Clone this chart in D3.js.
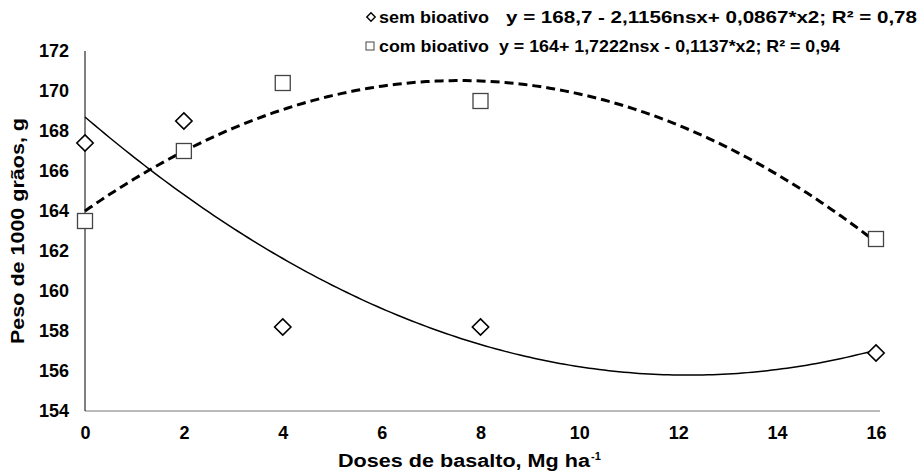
<!DOCTYPE html>
<html><head><meta charset="utf-8">
<script src="https://cdn.jsdelivr.net/npm/d3@7"></script>
<style>
body{margin:0;background:#fff;}
text{font-family:"Liberation Sans",Arial,sans-serif;font-weight:bold;fill:#000;}
</style></head>
<body><svg id="c" width="920" height="472"></svg>
<script>
const doses = [0, 2, 4, 8, 16];
const semBioativo = [167.4, 168.5, 158.2, 158.2, 156.9];
const comBioativo = [163.5, 167.0, 170.4, 169.5, 162.6];
// fitted regression coefficients from the legend: a + b*x + c*x^2
const semCoef = [168.7, -2.1156, 0.0867];
const comCoef = [164, 1.7222, -0.1137];
const xTicks = [0, 2, 4, 6, 8, 10, 12, 14, 16];
const yTicks = [154, 156, 158, 160, 162, 164, 166, 168, 170, 172];
const legendSem = "sem bioativo";
const legendSemEq = "y = 168,7 - 2,1156nsx+ 0,0867*x2; R² = 0,78";
const legendCom = "com bioativo";
const legendComEq = "y = 164+ 1,7222nsx - 0,1137*x2; R² = 0,94";

const svg = d3.select("#c");
const x = d3.scaleLinear().domain([0, 16]).range([85, 876]);
const y = d3.scaleLinear().domain([154, 172]).range([411, 51]);

// axes lines
svg.append("line").attr("x1", 85).attr("x2", 880).attr("y1", y(154)).attr("y2", y(154)).attr("stroke", "#777").attr("stroke-width", 1.2);
svg.append("line").attr("x1", 85).attr("x2", 85).attr("y1", y(154)).attr("y2", y(172)).attr("stroke", "#000").attr("stroke-width", 1);

const xa = svg.append("g").attr("transform", `translate(0,${y(154)})`)
  .call(d3.axisBottom(x).tickValues(xTicks).tickSize(0).tickPadding(15).tickFormat(d3.format("d")));
xa.select(".domain").remove();
xa.selectAll("text").style("font-size", "18px").style("font-family", "Liberation Sans, Arial").style("font-weight", "bold");

const ya = svg.append("g").attr("transform", `translate(85,0)`)
  .call(d3.axisLeft(y).tickValues(yTicks).tickSize(0).tickPadding(16).tickFormat(d3.format("d")));
ya.select(".domain").remove();
ya.selectAll("text").style("font-size", "18px").style("font-family", "Liberation Sans, Arial").style("font-weight", "bold");

// axis titles
svg.append("text").attr("x", 338).attr("y", 467).style("font-size", "18px")
  .attr("textLength", 252).attr("lengthAdjust", "spacingAndGlyphs")
  .text("Doses de basalto, Mg ha");
svg.append("text").attr("x", 591).attr("y", 460).style("font-size", "11px").text("-1");
svg.append("text").attr("transform", "translate(24,231) rotate(-90)").attr("text-anchor", "middle").style("font-size", "18px")
  .attr("textLength", 226).attr("lengthAdjust", "spacingAndGlyphs")
  .text("Peso de 1000 grãos, g");

// trend curves
const poly = (c, v) => c[0] + c[1] * v + c[2] * v * v;
const xs = d3.range(0, 16.001, 0.1);
const line = d3.line().x(d => x(d[0])).y(d => y(d[1]));
svg.append("path").datum(xs.map(v => [v, poly(semCoef, v)])).attr("d", line)
  .attr("fill", "none").attr("stroke", "#000").attr("stroke-width", 1.5);
svg.append("path").datum(xs.map(v => [v, poly(comCoef, v)])).attr("d", line)
  .attr("fill", "none").attr("stroke", "#000").attr("stroke-width", 3).attr("stroke-dasharray", "9,5");

// markers
const dia = d3.symbol().type(d3.symbolDiamond2).size(170);
svg.selectAll(".sem").data(doses).enter().append("path")
  .attr("transform", (d, i) => `translate(${x(d)},${y(semBioativo[i])})`)
  .attr("d", dia).attr("fill", "#fff").attr("stroke", "#000").attr("stroke-width", 1.6);
svg.selectAll(".com").data(doses).enter().append("rect")
  .attr("x", d => x(d) - 7.5).attr("y", (d, i) => y(comBioativo[i]) - 7.5)
  .attr("width", 15).attr("height", 15).attr("fill", "#fff").attr("stroke", "#444").attr("stroke-width", 1.3);

// legend
const lg = svg.append("g");
lg.append("path").attr("transform", "translate(371,17)").attr("d", d3.symbol().type(d3.symbolDiamond2).size(45))
  .attr("fill", "#fff").attr("stroke", "#000").attr("stroke-width", 1.4);
lg.append("text").attr("x", 379).attr("y", 23).style("font-size", "17px")
  .attr("textLength", 110).attr("lengthAdjust", "spacingAndGlyphs").text(legendSem);
lg.append("text").attr("x", 506).attr("y", 23).style("font-size", "17px")
  .attr("textLength", 411).attr("lengthAdjust", "spacingAndGlyphs").text(legendSemEq);
lg.append("rect").attr("x", 366).attr("y", 42).attr("width", 8).attr("height", 8)
  .attr("fill", "#fff").attr("stroke", "#444").attr("stroke-width", 1);
lg.append("text").attr("x", 379).attr("y", 52).style("font-size", "17px")
  .attr("textLength", 110).attr("lengthAdjust", "spacingAndGlyphs").text(legendCom);
lg.append("text").attr("x", 499).attr("y", 52).style("font-size", "17px")
  .attr("textLength", 341).attr("lengthAdjust", "spacingAndGlyphs").text(legendComEq);
</script></body></html>
